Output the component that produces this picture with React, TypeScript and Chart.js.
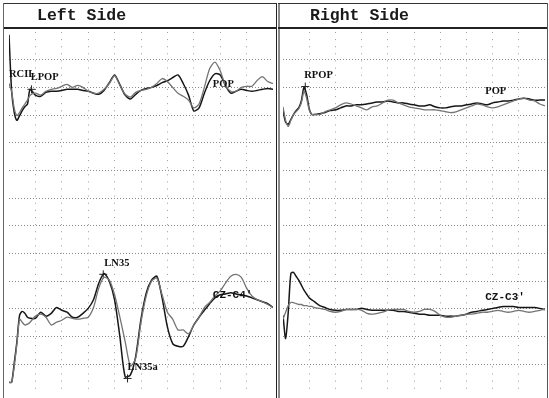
import React, { useEffect, useRef } from "react";
import { Chart, registerables } from "chart.js";

Chart.register(...registerables);

// ---- time axes (ms, 10 ms per division) ----
const leftTimes = [0, 1, 2, 3, 4, 5, 6, 7, 8, 10, 12, 14, 16, 18, 20, 22, 24, 26, 28, 30, 32, 34, 36, 38, 40, 42, 44, 46, 48, 50, 52, 54, 56, 58, 60, 62, 64, 66, 68, 70, 72, 74, 76, 78, 80, 82, 84, 86, 88, 90, 92, 94, 96, 98, 100];
const rightTimes = [0, 1, 2, 3, 4, 5, 6, 7, 8, 9, 10, 11, 12, 14, 16, 18, 20, 22, 24, 26, 28, 30, 32, 34, 36, 38, 40, 42, 44, 46, 48, 50, 52, 54, 56, 58, 60, 62, 64, 66, 68, 70, 72, 74, 76, 78, 80, 82, 84, 86, 88, 90, 92, 94, 96, 98, 100];

// channel baselines (in grid divisions from the bottom)
const TOP_BASE = 11;
const BOTTOM_BASE = 4;

// ---- amplitudes (divisions) ----
const leftTopBlack = [1.90, -0.14, -0.91, -1.19, -1.02, -0.84, -0.70, -0.60, -0.07,
  -0.28, -0.32, -0.18, -0.14, -0.14, -0.11, -0.07, -0.07, -0.07, -0.11,
  -0.14, -0.21, -0.25, -0.11, 0.17, 0.45, 0.10, -0.28, -0.42, -0.25,
  -0.11, -0.04, 0.00, 0.07, 0.17, 0.24, 0.35, 0.45, 0.14, -0.28,
  -0.85, -0.74, -0.21, 0.24, 0.49, 0.45, 0.07, -0.21, -0.14, -0.07,
  -0.11, -0.14, -0.11, -0.07, -0.04, -0.07];
const leftTopGray = [0.14, -0.14, -0.77, -1.02, -0.91, -0.74, -0.60, -0.46, -0.28,
  -0.21, -0.28, -0.14, -0.07, -0.04, 0.04, 0.11, 0.00, 0.07, 0.00,
  -0.14, -0.21, -0.21, -0.07, 0.14, 0.42, 0.07, -0.25, -0.35, -0.18,
  -0.11, -0.07, 0.00, 0.14, 0.32, 0.21, 0.00, -0.21, -0.32, -0.46,
  -0.74, -0.60, 0.00, 0.67, 0.91, 0.60, 0.07, -0.14, -0.14, 0.00,
  0.04, 0.04, 0.25, 0.39, 0.21, 0.14];
const leftBottomBlack = [-3.65, -3.65, -2.95, -2.18, -1.23, -1.09, -1.16, -1.30, -1.34,
  -1.34, -1.12, -1.26, -1.16, -0.95, -1.05, -1.12, -1.30, -1.30, -1.16,
  -0.98, -0.67, -0.07, 0.28, 0.00, -0.67, -2.00, -3.45, -3.38, -2.71,
  -1.37, -0.42, 0.04, 0.18, -0.60, -1.65, -2.25, -2.35, -2.35, -2.00,
  -1.58, -1.30, -1.05, -0.81, -0.60, -0.49, -0.46, -0.42, -0.46, -0.49,
  -0.53, -0.60, -0.67, -0.74, -0.81, -0.95];
const leftBottomGray = [-3.65, -3.65, -3.06, -2.25, -1.37, -1.48, -1.58, -1.55, -1.48,
  -1.26, -1.19, -1.30, -1.58, -1.48, -1.41, -1.30, -1.34, -1.37, -1.34,
  -1.30, -0.95, -0.25, 0.14, 0.04, -0.49, -1.30, -2.18, -3.06, -2.78,
  -1.48, -0.53, 0.00, 0.11, -0.49, -1.12, -1.37, -1.76, -1.76, -1.90,
  -1.58, -1.30, -0.95, -0.77, -0.53, -0.35, -0.07, 0.18, 0.25, 0.14,
  -0.25, -0.53, -0.67, -0.74, -0.84, -0.95];

const rightTopBlack = [-0.84, -1.26, -1.33, -1.16, -0.98, -0.84, -0.74, -0.49, 0.00, -0.25, -0.77, -0.98, -0.98,
  -0.95, -0.91, -0.84, -0.81, -0.74, -0.67, -0.67, -0.63, -0.63, -0.60,
  -0.56, -0.53, -0.53, -0.49, -0.53, -0.56, -0.56, -0.60, -0.63, -0.67,
  -0.67, -0.63, -0.70, -0.74, -0.74, -0.70, -0.67, -0.67, -0.63, -0.60,
  -0.56, -0.60, -0.63, -0.56, -0.53, -0.49, -0.49, -0.46, -0.42, -0.39,
  -0.42, -0.46, -0.46, -0.46];
const rightTopGray = [-0.70, -1.19, -1.41, -1.19, -0.98, -0.88, -0.77, -0.56, -0.14, -0.39, -0.81, -0.98, -0.98,
  -0.98, -0.88, -0.81, -0.74, -0.63, -0.56, -0.60, -0.67, -0.74, -0.81,
  -0.70, -0.67, -0.56, -0.46, -0.46, -0.56, -0.63, -0.70, -0.74, -0.77,
  -0.81, -0.81, -0.81, -0.84, -0.88, -0.91, -0.88, -0.81, -0.74, -0.67,
  -0.60, -0.63, -0.70, -0.74, -0.70, -0.63, -0.56, -0.49, -0.42, -0.39,
  -0.46, -0.49, -0.60, -0.67];
const rightBottomBlack = [-1.23, -2.07, -1.12, 0.28, 0.32, 0.18, 0.04, -0.14, -0.32, -0.46, -0.60, -0.67, -0.74,
  -0.88, -0.95, -1.02, -1.05, -1.05, -1.02, -1.02, -1.02, -0.98, -1.02,
  -1.05, -1.05, -1.05, -1.05, -1.05, -1.09, -1.09, -1.12, -1.16, -1.19,
  -1.19, -1.23, -1.23, -1.23, -1.26, -1.26, -1.26, -1.23, -1.19, -1.12,
  -1.09, -1.05, -1.02, -0.98, -0.95, -0.91, -0.91, -0.91, -0.95, -0.95,
  -0.95, -0.95, -0.98, -1.02];
const rightBottomGray = [-1.37, -1.12, -0.88, -0.77, -0.77, -0.81, -0.84, -0.84, -0.88, -0.88, -0.91, -0.91, -0.95,
  -0.98, -1.02, -1.09, -1.12, -1.09, -1.02, -1.02, -1.02, -1.05, -1.16,
  -1.19, -1.16, -1.12, -1.05, -1.02, -1.02, -1.02, -1.09, -1.12, -1.09,
  -1.02, -1.02, -1.09, -1.23, -1.30, -1.30, -1.26, -1.23, -1.19, -1.19,
  -1.16, -1.12, -1.12, -1.09, -1.05, -1.09, -1.12, -1.09, -1.05, -1.09,
  -1.12, -1.09, -1.05, -1.02];

// ---- peak labels (time ms, level in divisions) ----
const leftLabelTexts = ["RCIL", "LPOP", "POP", "LN35", "LN35a", "CZ-C4'"];
const leftLabelTimes = [0.0, 8.2, 77.2, 36.1, 44.9, 77.2];
const leftLabelLevels = [11.49, 11.35, 11.10, 4.64, 0.88, 3.51];
const rightLabelTexts = ["RPOP", "POP", "CZ-C3'"];
const rightLabelTimes = [8.1, 77.2, 77.2];
const rightLabelLevels = [11.42, 10.86, 3.41];

// peak markers
const leftMarkTimes = [8.5, 35.7, 44.9];
const leftMarkLevels = [10.93, 4.25, 0.49];
const rightMarkTimes = [8.5];
const rightMarkLevels = [11.03];

const BLACK = "#161616";
const GRAY = "#747474";

type Trace = { vals: number[]; base: number; color: string; width: number };

function buildPoints(times: number[], vals: number[], base: number) {
  return times.map((t, i) => ({ x: t, y: vals[i] + base }));
}

function Panel(props: {
  left: number;
  width: number;
  times: number[];
  traces: Trace[];
  labelTexts: string[];
  labelTimes: number[];
  labelLevels: number[];
  markTimes: number[];
  markLevels: number[];
  monoLabels: string[];
}) {
  const ref = useRef<HTMLCanvasElement>(null);
  useEffect(() => {
    const { times, traces, labelTexts, labelTimes, labelLevels, markTimes, markLevels, monoLabels } = props;
    const datasets: any[] = traces.map((tr) => ({
      data: buildPoints(times, tr.vals, tr.base),
      borderColor: tr.color,
      borderWidth: tr.width,
      pointRadius: 0,
      tension: 0.25,
      fill: false,
    }));
    datasets.push({
      type: "scatter",
      data: markTimes.map((t, i) => ({ x: t, y: markLevels[i] })),
      pointStyle: "cross",
      pointRadius: 4,
      borderColor: "#222",
      borderWidth: 1,
      showLine: false,
    });
    const labelPlugin = {
      id: "peakLabels",
      afterDatasetsDraw(chart: any) {
        const { ctx, scales } = chart;
        ctx.save();
        ctx.fillStyle = "#111";
        ctx.textBaseline = "middle";
        ctx.textAlign = "left";
        labelTexts.forEach((txt, i) => {
          const px = scales.x.getPixelForValue(labelTimes[i]);
          const py = scales.y.getPixelForValue(labelLevels[i]);
          ctx.font = monoLabels.includes(txt)
            ? 'bold 11px "Liberation Mono"'
            : 'bold 10.5px "Liberation Serif"';
          ctx.fillText(txt, px, py);
        });
        ctx.restore();
      },
    };
    const chart = new Chart(ref.current as HTMLCanvasElement, {
      type: "line",
      data: { datasets },
      options: {
        animation: false,
        responsive: false,
        maintainAspectRatio: false,
        events: [],
        layout: { padding: 0 },
        plugins: { legend: { display: false }, tooltip: { enabled: false }, title: { display: false } },
        scales: {
          x: {
            type: "linear",
            min: 0,
            max: 100,
            ticks: { display: false, stepSize: 10 },
            grid: {
              drawTicks: false,
              color: (c: any) => (c.tick && (c.tick.value === 0 || c.tick.value === 100) ? "rgba(0,0,0,0)" : "#9c9c9c"),
            },
            border: { display: false, dash: [1, 6.115] },
          },
          y: {
            type: "linear",
            min: 0,
            max: 13,
            ticks: { display: false, stepSize: 1 },
            grid: {
              drawTicks: false,
              color: (c: any) => (c.tick && (c.tick.value === 0 || c.tick.value === 13) ? "rgba(0,0,0,0)" : "#8a8a8a"),
            },
            border: { display: false, dash: [1, 2] },
          },
        },
      } as any,
      plugins: [labelPlugin],
    });
    return () => chart.destroy();
  }, []);
  return (
    <canvas
      ref={ref}
      width={props.width}
      height={370}
      style={{ position: "absolute", left: props.left, top: 27, width: props.width, height: 370 }}
    />
  );
}

function Line(p: { l: number; t: number; w: number; h: number; c: string }) {
  return <div style={{ position: "absolute", left: p.l, top: p.t, width: p.w, height: p.h, background: p.c }} />;
}

const headerFont: React.CSSProperties = {
  position: "absolute",
  top: 4,
  height: 23,
  lineHeight: "23px",
  fontFamily: '"Liberation Mono", "DejaVu Sans Mono", monospace',
  fontSize: 16.5,
  fontWeight: "bold",
  color: "#1a1a1a",
  whiteSpace: "pre",
};

export default function App() {
  const monoLabels = ["CZ-C4'", "CZ-C3'"];
  return (
    <div style={{ position: "fixed", left: 0, top: 0, width: 549, height: 398, background: "#fff", overflow: "hidden" }}>
      <Panel
        left={4}
        width={274}
        times={leftTimes}
        traces={[
          { vals: leftTopGray, base: TOP_BASE, color: GRAY, width: 1.3 },
          { vals: leftTopBlack, base: TOP_BASE, color: BLACK, width: 1.5 },
          { vals: leftBottomGray, base: BOTTOM_BASE, color: GRAY, width: 1.3 },
          { vals: leftBottomBlack, base: BOTTOM_BASE, color: BLACK, width: 1.5 },
        ]}
        labelTexts={leftLabelTexts}
        labelTimes={leftLabelTimes}
        labelLevels={leftLabelLevels}
        markTimes={leftMarkTimes}
        markLevels={leftMarkLevels}
        monoLabels={monoLabels}
      />
      <Panel
        left={278}
        width={272}
        times={rightTimes}
        traces={[
          { vals: rightTopGray, base: TOP_BASE, color: GRAY, width: 1.3 },
          { vals: rightTopBlack, base: TOP_BASE, color: BLACK, width: 1.5 },
          { vals: rightBottomGray, base: BOTTOM_BASE, color: GRAY, width: 1.3 },
          { vals: rightBottomBlack, base: BOTTOM_BASE, color: BLACK, width: 1.5 },
        ]}
        labelTexts={rightLabelTexts}
        labelTimes={rightLabelTimes}
        labelLevels={rightLabelLevels}
        markTimes={rightMarkTimes}
        markLevels={rightMarkLevels}
        monoLabels={monoLabels}
      />
      {/* panel frames */}
      <Line l={3} t={3} w={274} h={1} c="#333" />
      <Line l={3} t={27} w={274} h={2} c="#222" />
      <Line l={3} t={3} w={1} h={395} c="#666" />
      <Line l={276} t={3} w={1} h={395} c="#222" />
      <Line l={278} t={3} w={2} h={395} c="#8a8a8a" />
      <Line l={278} t={3} w={270} h={1} c="#333" />
      <Line l={278} t={27} w={270} h={2} c="#222" />
      <Line l={547} t={3} w={1} h={395} c="#555" />
      <div style={{ ...headerFont, left: 37 }}>Left Side</div>
      <div style={{ ...headerFont, left: 310 }}>Right Side</div>
    </div>
  );
}
